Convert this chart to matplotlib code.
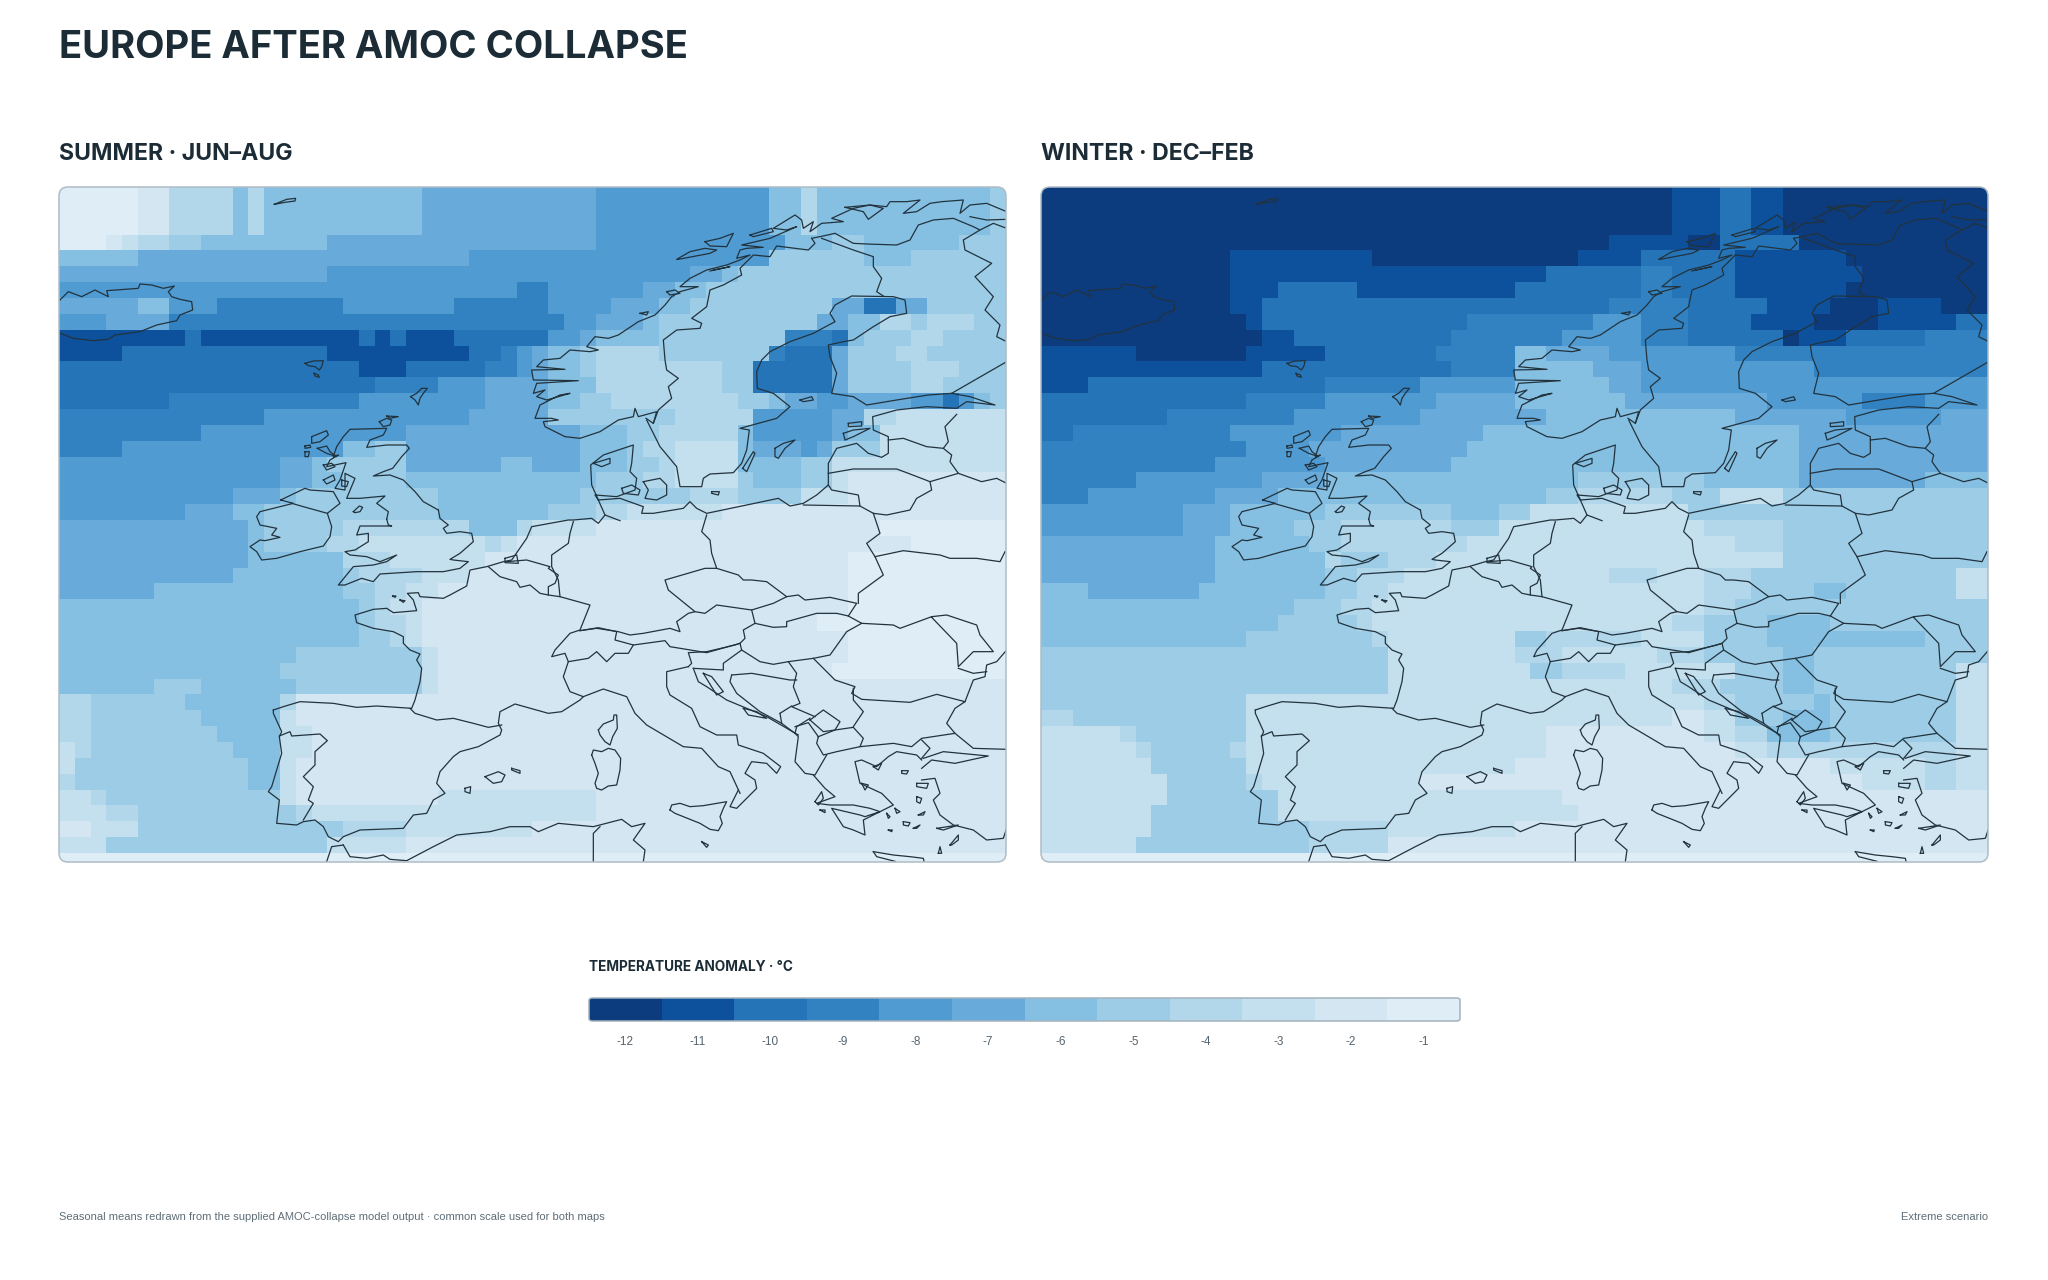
import numpy as np
import matplotlib
matplotlib.use("Agg")
import matplotlib.pyplot as plt
from matplotlib.colors import ListedColormap, BoundaryNorm
from matplotlib.patches import FancyBboxPatch

plt.rcParams['font.family'] = ['Liberation Sans', 'DejaVu Sans']
head_font = ['Inter', 'Liberation Sans', 'DejaVu Sans']

W, H = 2048, 1280

# colour steps of the scale, coldest first
scale_values = [-12, -11, -10, -9, -8, -7, -6, -5, -4, -3, -2, -1]
scale_labels = ["-12", "-11", "-10", "-9", "-8", "-7", "-6", "-5", "-4", "-3", "-2", "-1"]
scale_colors = ["#0c3b7e", "#0d519c", "#2674b8", "#3282c2", "#4f9bd2", "#68aad9",
                "#85c0e2", "#9dcce6", "#b2d6ea", "#c4dfed", "#d3e6f2", "#deedf6"]

# cooling per cell, run length coded: value*count, a=10 b=11 c=12
summer_rows = [
"1*5 2*2 4*4 6 4 6*10 7*11 8*11 6*2 4 6*11 5",
"1*5 2*2 4*4 6 4 6*10 7*11 8*11 6*2 4 6*11 5",
"1*5 2*2 4*4 6 4 6*10 7*11 8*11 6*2 4 6*11 5",
"1*3 2*1 3*1 4*2 5*2 6*8 7*17 8*12 6*3 5*2 6*6 5*3",
"6*5 7*21 8*19 5*6 6*3 5*6",
"7*17 8*23 7*2 6*1 5*17",
"8*29 9*2 8*6 7*2 6*2 5*19",
"7*5 6*2 8*3 9*8 8*7 9*6 8*4 7*3 6*2 5*9 7*2 a*2 7*2 5*5",
"8*3 7*4 9*25 8*2 7*3 6*1 5*10 7*2 6*2 4*2 5*1 4*3 5*2",
"b*8 a b*10 a b a b*3 a*6 8*2 7 6*4 5*8 9*3 a 6 5*3 4*2 5*4",
"b*4 a*13 b*9 a*2 9 8 7 6*2 5 4*4 5*7 9 a*3 7 5*3 4*2 5*5",
"a*19 b*3 a*5 9*2 8 7 6*2 5 4*8 5*2 a*5 7 5*4 4*3 5*3",
"a*20 9*4 8*3 7*4 6*3 4*8 5*2 a*5 7 5*4 4*2 5*4",
"a*7 9*12 8*8 7*4 6*2 5*2 4*8 5*2 6 7*2 8*2 7*4 8*2 a 8 6 5",
"9*13 8*13 7*5 5*8 4*5 8*5 7*2 4*2 3*7",
"9*9 8*13 7*11 6*3 5*2 4*5 6 8*5 7 6*2 3*8",
"9*4 8*14 6*2 5*2 7*11 6*3 5 4*2 3*4 6 7*3 8 7 5*3 3*8",
"8*14 7*2 6 5*5 7*6 6*2 7*3 6*3 5*2 4 3*4 6*4 5*2 3*11",
"8*14 7*2 6*2 5*4 6*12 5*3 4*2 3*4 5 6*3 5*2 3 2*10",
"8*11 7*3 6 5*9 6*9 5*7 4*3 5*4 3*3 2*10",
"8*8 7*3 6*2 5*11 6*7 5*3 4*2 3*6 2*18",
"7*12 6 5*5 4*8 6*3 4 3*4 2*18 1*8",
"7*12 6 5*4 4*2 3*8 4 3 2*25 1*6",
"7*12 6*6 4*3 3*6 2*23 1*10",
"7*11 6*7 5 4*4 3*3 2*24 1*10",
"7*6 6*12 5*2 4*2 3*2 2*26 1*10",
"6*19 5 4 3*2 2*27 1*10",
"6*19 5 4*2 3 2*25 1*12",
"6*19 5*2 4 3 2*27 1*10",
"6*15 5*8 3 2*26 1*10",
"6*14 5*9 3 2*25 1*11",
"6*6 5*3 6*6 5*8 3 2*36",
"4*2 5*6 6*6 4 2*45",
"4*2 5*7 6*5 3 2*45",
"4*2 5*8 6*4 3*2 2*44",
"3 4 5*9 6*3 3*2 2*44",
"3 5*11 6*2 3 2*45",
"4 5*11 6*2 3 2*45",
"3*2 4 5*11 3 2*9 3*10 2*26",
"3*3 4*2 5*10 4 3*18 2*26",
"2*2 3*3 5*13 4*4 3*8 2*30",
"3*3 5*14 3*5 2*38",
"1*60",
]

winter_rows = [
"c*40 b*3 a*2 b*2 c*13",
"c*40 b*3 a*2 b*2 c*13",
"c*40 b*3 a*2 b*2 c*13",
"c*36 b*5 c*2 a*5 c*12",
"c*12 b*9 c*13 b*4 a*6 b*7 c*9",
"c*12 b*20 a*6 9*2 a*4 b*8 c*8",
"c*12 b*3 a*5 b*10 a*8 9*2 a*4 b*7 c*9",
"c*12 b*2 a*22 9*5 a*5 b*4 c*3 b*4 c*3",
"c*13 b a*13 9*8 8*3 9*3 a*4 b*4 c*4 b*5 a*2",
"c*14 b*2 a*10 9*7 8*5 9*3 a*6 c b*3 a*5 9*4",
"b*6 c*7 b*5 a*7 9*5 6*2 7*4 8*8 9*16",
"b*14 a*12 9*4 6*5 7*3 8*11 9*11",
"b*3 a*15 9*6 8*6 6*6 7*2 8*22",
"a*13 9*5 8*7 7*5 6*7 7*9 8*6 9*4 8*4",
"a*8 9*8 8*8 7*8 6*12 7*7 8*6 7*3",
"a*2 9*10 8*7 7*9 6*20 7*12",
"9*13 8*4 7*10 6*21 7*12",
"9*11 8*7 7*8 6*22 7*12",
"9*6 8*8 7*4 6*16 5*8 6*6 7*8 6*4",
"9*3 8*8 7*4 6*17 5*2 4*6 5*3 3*4 5*13",
"8*9 7*3 6*6 5*8 6*3 5*2 3*10 5*19",
"8*9 7*3 6*4 5*3 4*7 5*3 3*13 4*5 5*13",
"7*11 6*6 5*2 4*8 3*17 4*3 5*13",
"7*11 6*7 4 5*3 4*3 3*22 5*13",
"7*11 6*7 5*2 4*3 3*13 4*3 3*3 4*3 5*13 3*2",
"6*3 7*7 6*8 5*2 4*2 3*20 4*3 5*4 6*2 5*7 3*2",
"6*16 5*3 4*2 3*21 4*2 5*16",
"6*15 5*5 4 3*19 4*2 5*4 6*4 5*10",
"6*13 5*8 4 3*8 5*2 4*6 3*4 5*4 6*10 5*4",
"5*22 3*8 4*3 3*6 4*3 5*5 6*2 5*11",
"5*22 3*9 5*2 4*4 3*7 5*3 6*2 5*9 3*2",
"5*22 3*18 4*3 5*4 6*2 5*9 3*2",
"5*13 3*29 4*2 5*5 6 5*8 3*2",
"4*2 5*11 3*27 2*2 3*2 5*3 6*3 5*8 3*2",
"3*5 4 5*7 3*19 2*10 3*2 4*2 6*4 5*8 3*2",
"3*6 4 5*5 4 3*19 2*12 3*2 4*12 3*2",
"3*7 5*6 3*17 2*20 3*6 4*2 3*2",
"3*8 5*5 4 3*10 2*28 3*4 4*2 3*2",
"3*8 5*7 3*18 2*27",
"3*7 5*8 3*19 2*26",
"3*7 5*10 4*5 3*8 2*30",
"3*6 5*11 4*5 2*38",
"1*60",
]

lines_a = [  # crop at 40,170
    [(60,390),(85,365),(125,380),(165,360),(205,380),(200,362),(295,355),(300,342),(335,345),(370,355),(403,348),(385,365),(395,380),(420,388),(455,395),(458,420),(420,435),(410,452),(350,465),(300,485),(225,495),(205,508),(160,512),(100,505),(62,490)],
    [(703,103),(740,88),(767,85),(765,93),(735,97),(703,103)],
    [(795,580),(820,573),(850,572),(845,590),(838,600),(825,590),(805,587),(795,580)],
    [(822,610),(835,615),(838,622),(825,618),(822,610)],
    [(1112,680),(1130,670),(1145,655),(1162,655),(1150,670),(1140,685),(1135,705),(1125,690),(1112,680)],
    [(1018,755),(1040,745),(1055,750),(1050,765),(1030,770),(1018,755)],
    [(1040,738),(1075,740),(1050,745),(1040,738)],
    [(1195,1020),(1150,995),(1125,965),(1090,930),(1050,915),(1000,918),(1030,905),(1058,895),(1085,860),(1108,835),(1100,825),(1040,825),(980,832),(990,810),(1030,795),(1040,775),(930,778),(910,800),(890,830),(880,860),(895,855),(870,870),(860,890),(918,878),(900,930),(885,955),(915,960),(915,910),(945,925),(920,985),(960,985),(1035,978),(1010,1000),(1045,1025),(1040,1048)],
    [(815,800),(860,782),(865,795),(840,815),(815,820),(815,800)],
    [(795,828),(810,825),(812,832),(795,835),(795,828)],
    [(795,845),(808,845),(805,860),(795,860),(795,845)],
    [(832,835),(860,828),(870,845),(890,860),(860,850),(832,835)],
    [(850,885),(875,880),(885,890),(860,900),(850,885)],
    [(850,930),(880,915),(885,930),(860,942),(850,930)],
    [(905,930),(925,935),(920,950),(905,948),(905,930)],
    [(940,1025),(958,1008),(968,1012),(960,1025),(945,1028),(940,1025)],
]

lines_b = [  # crop at 520,170
    [(255,1035),(235,990),(215,945),(212,885),(250,855),(340,825),(335,880),(330,905),(350,925),(345,960),(290,980),(225,975),(235,990),(300,985),(370,1010),(365,1030),(400,1030),(490,1015),(510,995),(530,1015),(560,1030),(680,1005),(775,985),(810,1008),(850,1000),(890,975),(925,945),(925,880),(950,835),(1010,820),(1045,850),(1085,862),(1105,850),(1105,800),(1060,780),(1058,740),(1130,720),(1220,710),(1310,715),(1340,695),(1425,705),(1350,680),(1295,670),(1225,675),(1130,690),(1040,705),(1000,680),(935,670),(950,610),(930,560),(925,525),(970,515),(1000,510),(1060,470),(1110,440),(1160,430),(1155,390),(1120,380),(995,378),(945,405),(930,430),(945,455),(880,490),(810,515),(750,545),(725,570),(710,605),(712,655),(760,670),(810,710),(770,745),(660,775),(688,780),(680,840),(665,880),(640,908),(570,912),(550,925),(545,950),(480,950),(470,890),(420,830),(380,750)],
    [(400,760),(410,725),(355,740),(345,715),(340,740),(295,750),(240,785),(180,805),(135,800),(75,770),(70,755),(115,750),(95,745),(45,745),(60,705),(120,675),(150,670),(80,690),(50,680),(75,660),(40,670),(50,640),(175,632),(40,630),(35,600),(135,598),(50,590),(70,570),(120,565),(150,540),(210,545),(235,540),(200,530),(225,500),(265,505),(295,495),(355,455),(405,435),(435,405),(455,380),(480,365),(535,350),(480,350),(510,325),(560,300),(620,285),(660,270),(690,255),(650,265),(660,240),(680,235),(730,232),(665,225),(750,205),(830,170),(800,180),(760,175),(825,135),(845,150),(850,175),(880,155),(870,185),(905,160),(970,155),(935,145),(1000,115),(1050,105),(1100,110),(1110,95),(1160,95),(1200,90),(1150,130),(1190,125),(1230,100),(1265,95),(1330,90),(1320,130),(1350,105),(1400,100),(1460,125)],
    [(1350,140),(1400,150),(1460,148)],
    [(1380,180),(1420,160),(1460,175)],
    [(875,205),(900,200),(945,190),(1000,220),(1040,222),(1130,225),(1170,210),(1195,165),(1240,150),(1300,145),(1360,170),(1380,180),(1330,210),(1335,240),(1415,280),(1365,320),(1420,380),(1395,420),(1440,465),(1430,500),(1460,515)],
    [(875,205),(885,220),(865,240),(770,228),(750,260),(700,255),(660,295),(665,315),(610,345),(570,360),(560,410),(515,445),(545,460),(540,475),(470,480),(430,510),(435,570),(440,600),(475,625),(445,650),(455,685),(415,720),(400,760),(378,745)],
    [(905,205),(1000,240),(1060,260),(1060,290),(1085,325),(1070,365),(1090,378)],
    [(1295,670),(1460,575)],
    [(1105,810),(1150,805),(1220,830),(1270,835)],
    [(1310,733),(1275,770),(1285,815),(1270,835),(1295,855),(1290,875),(1315,910),(1385,935),(1430,925),(1460,940)],
    [(925,910),(1000,897),(1130,897),(1165,910),(1230,935),(1315,910)],
    [(925,945),(935,960),(1015,975),(1020,1008),(850,1005)],
    [(1230,935),(1235,960),(1190,985),(1170,1020),(1100,1035),(1060,1030),(1020,1008)],
    [(765,835),(790,820),(825,810),(795,835),(775,865),(765,860),(765,835)],
    [(668,895),(700,845),(705,850),(680,905),(668,895)],
    [(970,790),(1000,780),(1050,775),(1000,800),(975,810),(970,790)],
    [(985,760),(1025,755),(1025,768),(985,770),(985,760)],
    [(840,690),(875,680),(880,690),(850,695),(840,690)],
    [(575,965),(598,965),(595,975),(575,970),(575,965)],
    [(305,955),(335,945),(360,960),(355,975),(310,970),(305,955)],
    [(370,935),(420,925),(440,945),(440,975),(410,990),(375,985),(385,960),(370,935)],
    [(470,268),(510,245),(555,235),(590,240),(570,250),(475,268)],
    [(555,215),(600,205),(640,190),(620,230),(570,228),(555,215)],
    [(580,300),(630,290),(570,303)],
    [(690,195),(755,175),(760,185),(700,200),(690,195)],
    [(975,112),(1050,105),(1090,115),(1045,148),(1030,125),(975,112)],
    [(360,430),(385,425),(380,435),(360,430)],
    [(440,365),(465,360),(480,370),(450,375),(440,365)],
    [(220,880),(270,865),(270,880),(245,890),(220,880)],
]

lines_c = [  # crop at 240,500
    [(440,57),(445,75),(455,78),(360,78),(350,105),(385,100),(385,125),(345,150),(315,155),(330,165),(380,170),(420,185),(470,165),(440,185),(400,195),(340,200),(295,255),(315,255),(365,235),(400,245),(420,222),(530,215),(610,215),(660,205),(685,185),(640,180),(630,178),(660,160),(700,125),(695,100),(660,95),(620,100),(610,85),(625,75),(600,55),(595,30)],
    [(122,0),(160,10),(100,25),(60,35),(50,50),(60,75),(110,85),(95,105),(120,112),(75,122),(60,120),(30,140),(50,155),(65,180),(110,175),(180,155),(250,138),(270,110),(275,80),(262,40),(300,10),(280,-25),(210,-30),(195,-35),(122,0)],
    [(155,10),(190,20),(262,40)],
    [(100,630),(130,620),(180,605),(280,610),(350,622),(410,618),(515,625),(525,600),(540,545),(545,505),(530,480),(540,462),(510,450),(490,430),(490,410),(460,395),(400,385),(350,368),(345,345),(400,328),(440,325),(460,338),(530,332),(520,300),(502,280),(535,278),(540,290),(610,295),(630,285),(680,258),(690,210),(740,200),(790,185),(815,180),(860,115),(875,80),(930,70),(985,60),(1000,60),(1055,55),(1075,70),(1095,45),(1140,62)],
    [(1000,65),(990,100),(985,130),(935,165),(935,200),(955,240),(960,290),(1050,315),(1020,390),(990,400),(945,450),(935,470),(975,460),(985,485),(1045,475),(1070,455),(1100,485),(1125,460),(1165,460),(1180,435),(1275,422),(1290,440),(1400,458),(1500,430)],
    [(745,200),(780,230),(830,245),(840,262),(870,255),(900,280),(925,285),(960,290)],
    [(800,185),(860,180),(930,200),(925,205),(955,225),(945,250),(925,260),(925,285)],
    [(795,175),(830,165),(835,190),(795,188),(795,175)],
    [(1020,392),(1075,383),(1130,395),(1125,420),(1180,435)],
    [(985,485),(970,530),(990,575),(1030,590),(1020,600),(965,635),(925,640),(825,612),(780,635),(775,670),(785,690),(780,705),(715,740),(660,755),(640,770),(600,815),(590,850),(615,880),(580,900),(560,940),(520,945),(490,985),(360,990),(310,1010),(295,1025),(265,1010),(250,980),(225,960),(190,965),(170,975),(110,970),(118,900),(85,875),(95,860),(125,760),(118,710),(125,695),(100,640),(100,630)],
    [(510,625),(525,640),(590,660),(640,655),(700,670),(745,682),(785,675)],
    [(118,708),(150,695),(155,708),(240,702),(262,722),(225,755),(225,795),(190,830),(220,860),(205,900),(220,910),(190,960)],
    [(1030,590),(1090,567),(1160,590),(1185,640),(1220,675),(1330,740),(1385,745),(1435,800),(1470,815),(1500,880)],
    [(735,830),(775,815),(795,825),(785,845),(760,850),(735,830)],
    [(815,805),(840,812),(840,820),(815,810),(815,805)],
    [(675,865),(692,860),(690,880),(675,875),(675,865)],
    [(310,1035),(330,1070),(380,1075),(430,1065),(450,1078),(500,1082),(580,1040),(650,1005),(750,995),(810,980),(870,980),(895,995),(955,970),(1060,980),(1145,958),(1175,980),(1215,970),(1180,1020),(1215,1050),(1210,1085)],
    [(1060,1085),(1060,1000),(1080,980)],
    [(310,1035),(275,1040),(260,1085)],
    [(458,288),(468,288),(465,292),(458,288)],
    [(480,300),(495,302),(490,307),(480,300)],
]

lines_d = [  # crop at 560,500
    [(440,45),(425,95),(450,120),(455,160),(470,205),(435,205),(315,240),(325,270),(405,335),(385,340),(350,365),(360,395),(330,385),(250,400),(210,405),(175,395),(110,385),(60,392)],
    [(470,205),(535,225),(550,240),(575,240),(620,245),(680,290),(640,310),(575,330),(470,315),(435,340),(405,335)],
    [(575,330),(585,370),(550,390),(555,415),(540,430),(525,435),(440,455),(385,458),(395,490),(385,500)],
    [(585,370),(640,382),(680,380),(680,365),(770,340),(830,340),(865,348),(905,370),(860,395),(810,465),(760,475),(685,485),(640,493),(600,485),(545,450),(490,490),(490,510),(400,505)],
    [(680,290),(715,285),(735,300),(810,292),(890,310),(865,348)],
    [(940,40),(960,100),(920,130),(945,170),(970,225),(895,280),(895,310)],
    [(945,170),(1030,152),(1140,165),(1170,175),(1250,175),(1320,185),(1335,155)],
    [(905,370),(1000,375),(1020,385),(1115,350),(1160,345),(1250,375),(1260,405),(1300,455),(1240,455),(1195,500),(1190,430),(1115,352)],
    [(1195,505),(1240,520),(1280,515)],
    [(1340,450),(1310,485),(1280,495),(1275,530),(1240,540),(1215,605),(1185,625),(1160,670),(1185,700),(1240,745),(1340,748)],
    [(1215,605),(1130,583),(1050,607),(905,598),(875,580),(885,560),(825,540),(760,475)],
    [(685,485),(710,520),(700,560),(720,610),(695,620),(765,650)],
    [(750,660),(790,630),(840,665),(825,690),(790,695),(750,660)],
    [(880,565),(880,600),(910,635),(880,680)],
    [(775,710),(825,690),(880,682),(910,715),(900,740),(830,755),(790,765),(770,730),(775,710)],
    [(900,740),(1000,730),(1055,740),(1085,715),(1185,700)],
    [(1085,720),(1110,745),(1085,775)],
    [(515,525),(575,520),(690,540),(710,540)],
    [(515,525),(510,545),(530,580),(600,635),(665,670)],
    [(660,640),(695,618)],
    [(660,640),(665,670),(705,700),(710,680),(750,655)],
    [(705,680),(745,668),(775,710)],
    [(800,765),(765,825),(735,820),(705,785),(715,710),(705,700)],
    [(540,430),(545,450)],
    [(385,500),(320,515),(320,560),(330,585),(395,625),(420,680),(470,705),(530,705),(535,735),(610,760),(662,800),(650,820),(620,790),(575,785),(555,820),(585,840),(590,865),(530,925),(510,920),(535,870)],
    [(400,505),(415,545),(440,560),(500,600),(620,650),(715,705)],
    [(430,520),(455,530),(490,575),(470,585),(430,520)],
    [(550,625),(590,635),(620,655),(565,645),(550,625)],
    [(760,825),(795,865),(825,890),(770,910),(810,915),(880,915),(930,925),(960,935),(915,950),(900,945),(815,925),(850,980),(880,990),(915,1005),(910,960),(960,935),(1000,915),(965,880),(900,850),(885,785),(905,780),(950,800),(985,770),(1010,755),(1070,765),(1085,780)],
    [(1085,805),(1115,780),(1185,790),(1285,768),(1150,755),(1090,775)],
    [(1085,840),(1125,835),(1140,880),(1120,900),(1140,945),(1180,975),(1240,990),(1280,1020),(1330,1015),(1340,985)],
    [(940,1055),(1000,1065),(1050,1070),(1090,1075),(1092,1084)],
    [(940,1055),(950,1070),(1005,1084)],
    [(1170,1035),(1195,1005),(1195,1020),(1175,1035),(1170,1035)],
    [(330,930),(335,915),(360,910),(390,920),(430,917),(500,905),(490,925),(480,950),(487,970),(475,992),(450,988),(420,970),(370,950),(345,940),(330,930)],
    [(115,690),(130,672),(160,660),(162,645),(170,645),(172,685),(158,710),(150,735),(135,725),(120,705),(115,690)],
    [(95,765),(100,750),(125,755),(145,745),(165,750),(182,775),(180,810),(170,855),(145,858),(125,870),(110,865),(105,850),(115,820),(105,790),(95,765)],
    [(1070,850),(1105,850),(1100,865),(1070,860),(1070,850)],
    [(1025,812),(1045,812),(1040,822),(1025,820),(1025,812)],
    [(1070,890),(1085,895),(1080,910),(1070,905),(1070,890)],
    [(980,940),(990,950),(985,955),(980,940)],
    [(1005,925),(1020,935),(1010,940),(1005,925)],
    [(1030,965),(1050,968),(1045,978),(1030,975),(1030,965)],
    [(1075,945),(1095,935),(1090,945),(1075,945)],
    [(985,990),(997,990),(995,995),(985,990)],
    [(1060,985),(1080,975),(1070,985),(1060,985)],
    [(1130,985),(1195,975),(1150,990),(1130,985)],
    [(1135,1060),(1140,1040),(1145,1060),(1135,1060)],
    [(780,930),(795,930),(795,938),(780,930)],
    [(765,905),(785,875),(790,895),(775,915),(765,905)],
    [(425,1025),(445,1035),(440,1042),(425,1025)],
    [(940,800),(965,790),(955,810),(940,800)],
    [(905,850),(925,855),(915,870),(905,850)],
]

crop_origins = [(lines_a, 40, 170), (lines_b, 520, 170), (lines_c, 240, 500), (lines_d, 560, 500)]


def parse_rows(rows):
    codes = {"a": 10, "b": 11, "c": 12}
    grid = []
    for row in rows:
        cells = []
        for part in row.split():
            val, _, n = part.partition("*")
            cells += [-codes.get(val, int(val) if val.isdigit() else 0)] * int(n or 1)
        cells = (cells + cells[-1:] * 60)[:60]
        grid.append(cells)
    return np.array(grid)


def ax_px(fig, x0, y0, x1, y1):
    return fig.add_axes([x0 / W, 1 - y1 / H, (x1 - x0) / W, (y1 - y0) / H])


cmap = ListedColormap(scale_colors)
norm = BoundaryNorm(np.arange(-12.5, 0), cmap.N)
ink = "#1c2c36"

fig = plt.figure(figsize=(W / 100, H / 100), dpi=100, facecolor="white")


def draw_map(left, grid):
    right = left + 947
    ax = ax_px(fig, left, 187, right, 862)
    ax.set_xlim(59, 1006)
    ax.set_ylim(862, 187)
    ax.axis("off")
    frame = FancyBboxPatch((59, 187), 947, 675, boxstyle="round,pad=0,rounding_size=9",
                           fc="none", ec="#aebcc6", lw=1.1, zorder=5, clip_on=False)
    ax.add_patch(frame)
    xs = np.linspace(59, 1006, grid.shape[1] + 1)
    # the last row is only a thin pale strip along the bottom edge
    ys = np.append(np.linspace(187, 853, grid.shape[0]), 862)
    mesh = ax.pcolormesh(xs, ys, grid, cmap=cmap, norm=norm, shading="flat", zorder=1)
    mesh.set_clip_path(frame)
    for lines, x0, y0 in crop_origins:
        for line in lines:
            pts = np.array(line, dtype=float)
            ln, = ax.plot(x0 + pts[:, 0] / 3, y0 + pts[:, 1] / 3, color="#22333e", lw=0.9, zorder=3,
                          solid_joinstyle="round")
            ln.set_clip_path(frame)


draw_map(59, parse_rows(summer_rows))
draw_map(1041, parse_rows(winter_rows))

fig.text(59 / W, 1 - 58 / H, "EUROPE AFTER AMOC COLLAPSE", fontsize=27.5, fontweight="bold", color=ink,
         va="baseline", family=head_font)
fig.text(59 / W, 1 - 160 / H, "SUMMER · JUN–AUG", fontsize=16.6, fontweight="bold", color=ink,
         va="baseline", family=head_font)
fig.text(1041 / W, 1 - 160 / H, "WINTER · DEC–FEB", fontsize=16.6, fontweight="bold", color=ink,
         va="baseline", family=head_font)
fig.text(589 / W, 1 - 971 / H, "TEMPERATURE ANOMALY · °C", fontsize=9.8, fontweight="bold", color=ink,
         va="baseline", family=head_font)

cax = ax_px(fig, 589, 998, 1460, 1021)
cax.set_xlim(-12.5, -0.5)
cax.set_ylim(0, 1)
cbar = FancyBboxPatch((-12.5, 0), 12, 1, boxstyle="round,pad=0,rounding_size=0.05",
                      mutation_aspect=2, fc="none", ec="#a4b2bc", lw=1.1, zorder=5, clip_on=False)
cax.add_patch(cbar)
edges = np.arange(-12.5, 0)
bar = cax.pcolormesh(edges, [0, 1], np.array([scale_values]), cmap=cmap, norm=norm)
bar.set_clip_path(cbar)
cax.set_xticks(scale_values)
cax.set_xticklabels(scale_labels, fontsize=8.5, color="#55646e")
cax.set_yticks([])
cax.tick_params(axis="x", length=0, pad=11)
for s in cax.spines.values():
    s.set_visible(False)

foot = "Seasonal means redrawn from the supplied AMOC-collapse model output · common scale used for both maps"
fig.text(59 / W, 1 - 1220 / H, foot, fontsize=8, color="#5f6e78", va="baseline")
fig.text(1988 / W, 1 - 1220 / H, "Extreme scenario", fontsize=8, color="#5f6e78", va="baseline", ha="right")

fig.savefig("out.png", dpi=100, facecolor="white")
